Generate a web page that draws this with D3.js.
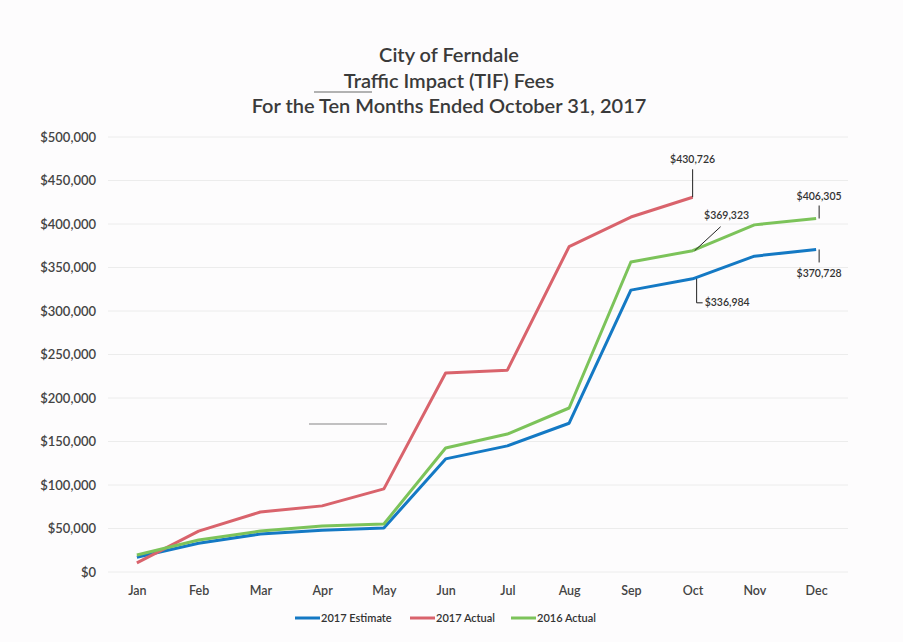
<!DOCTYPE html>
<html><head><meta charset="utf-8">
<script src="https://cdn.jsdelivr.net/npm/d3@7"></script>
<style>
html,body{margin:0;padding:0;background:#fdfcfd;}
svg{display:block;font-family:Lato,"Open Sans",sans-serif;}
</style></head>
<body>
<svg id="chart" width="903" height="642"></svg>
<script>
const months = ["Jan","Feb","Mar","Apr","May","Jun","Jul","Aug","Sep","Oct","Nov","Dec"];
const estimate2017 = [17000,33000,43700,48000,50500,130000,145000,171000,324000,336984,363000,370728];
const actual2017 = [10500,47000,69000,76000,95500,228700,232000,374000,408000,430726];
const actual2016 = [19500,36800,47100,52900,55200,142500,158600,188500,356300,369323,399000,406305];
const yTicks = [0,50000,100000,150000,200000,250000,300000,350000,400000,450000,500000];
const titleLines = ["City of Ferndale","Traffic Impact (TIF) Fees","For the Ten Months Ended October 31, 2017"];
const seriesNames = ["2017 Estimate","2017 Actual","2016 Actual"];
const colors = ["#1479c4","#d9636c","#7cc35a"];

const svg = d3.select("#chart");
const x = d3.scalePoint().domain(months).range([106,847]).padding(0.5);
const y = d3.scaleLinear().domain([0,500000]).range([572,137]);
const fmt = d3.format("$,.0f");
const FF = "Lato,'Open Sans',sans-serif";

// title
svg.append("g").selectAll("text").data(titleLines).join("text")
  .attr("x",449).attr("y",(d,i)=>[62,88,113][i])
  .attr("text-anchor","middle").attr("font-size",20).attr("font-weight",600).attr("fill","#3a3a3a")
  .text(d=>d);

// scan artifacts
svg.append("line").attr("x1",314).attr("x2",372).attr("y1",92).attr("y2",92).attr("stroke","#444").attr("stroke-width",1.2).attr("opacity",0.8);
svg.append("line").attr("x1",309).attr("x2",387).attr("y1",424).attr("y2",424).attr("stroke","#555").attr("stroke-width",1.2).attr("opacity",0.7);

// gridlines
svg.append("g").selectAll("line").data(yTicks).join("line")
  .attr("x1",108).attr("x2",848).attr("y1",d=>y(d)).attr("y2",d=>y(d))
  .attr("stroke","#ececec").attr("stroke-width",1);

// y axis
const ya = svg.append("g").attr("transform","translate(102,0)")
  .call(d3.axisLeft(y).tickValues(yTicks).tickFormat(fmt).tickSize(0).tickPadding(6));
ya.select(".domain").remove();
ya.selectAll("text").attr("font-size",13).attr("font-weight",600).attr("fill","#444").attr("font-family",FF);

// x axis
const xa = svg.append("g").attr("transform","translate(0,572)")
  .call(d3.axisBottom(x).tickSize(0).tickPadding(14));
xa.select(".domain").remove();
xa.selectAll("text").attr("font-size",12.5).attr("font-weight",600).attr("fill","#444").attr("font-family",FF);

// lines
const line = d3.line().x((d,i)=>x(months[i])).y(d=>y(d));
const allSeries = [estimate2017, actual2017, actual2016];
svg.append("g").selectAll("path").data(allSeries).join("path")
  .attr("d",d=>line(d)).attr("fill","none")
  .attr("stroke",(d,i)=>colors[i]).attr("stroke-width",3).attr("stroke-linejoin","round");

// data labels with leaders
const lab = svg.append("g").attr("font-size",10.5).attr("font-weight",600).attr("fill","#333");
function leader(pts){ lab.append("polyline").attr("points",pts.map(p=>p.join(",")).join(" ")).attr("fill","none").attr("stroke","#222").attr("stroke-width",1); }
function label(tx,ty,txt,anchor){ lab.append("text").attr("x",tx).attr("y",ty).attr("text-anchor",anchor||"middle").text(txt); }
{ const px=x("Oct"), py=y(actual2017[9]); leader([[px,py],[px,py-28]]); label(px,py-34,fmt(actual2017[9])); }
{ const px=x("Oct"), py=y(actual2016[9]); leader([[px+2,py],[px+28,py-24]]); label(px+34,py-32,fmt(actual2016[9])); }
{ const px=x("Dec"), py=y(actual2016[11]); leader([[px+3,py],[px+3,py-13]]); label(px+3,py-19,fmt(actual2016[11])); }
{ const px=x("Dec"), py=y(estimate2017[11]); leader([[px+3,py],[px+3,py+13]]); label(px+3,py+28,fmt(estimate2017[11])); }
{ const px=x("Oct"), py=y(estimate2017[9]); leader([[px+4,py],[px+4,py+24],[px+10,py+24]]); label(px+12,py+27,fmt(estimate2017[9]),"start"); }

// legend
const lg = svg.append("g").attr("font-size",11).attr("font-weight",600).attr("fill","#333");
const lx = [295,410,511];
seriesNames.forEach((n,i)=>{
  lg.append("line").attr("x1",lx[i]).attr("x2",lx[i]+25).attr("y1",618).attr("y2",618).attr("stroke",colors[i]).attr("stroke-width",3);
  lg.append("text").attr("x",lx[i]+26).attr("y",622).text(n);
});
</script>
</body></html>
